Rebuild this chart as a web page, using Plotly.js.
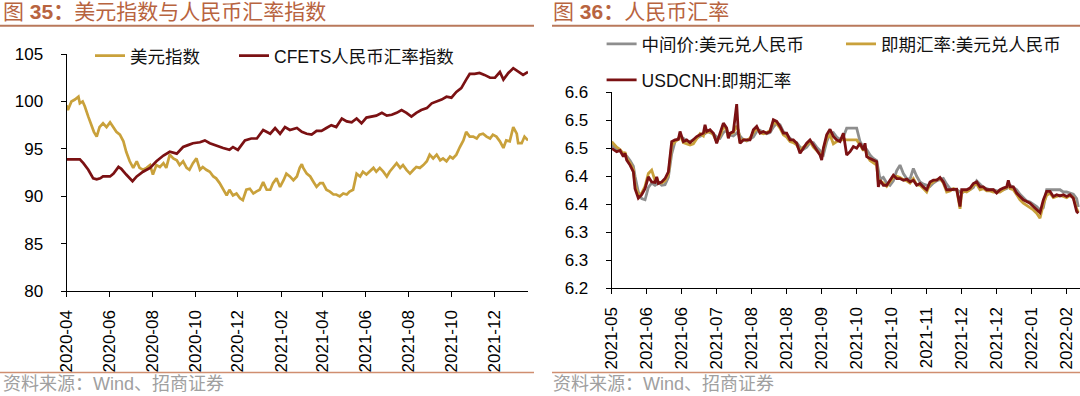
<!DOCTYPE html>
<html>
<head>
<meta charset="utf-8">
<script src="https://cdn.plot.ly/plotly-3.0.1.min.js"></script>
<style>
html,body{margin:0;padding:0;background:#fff;}
#chart{width:1080px;height:396px;}
</style>
</head>
<body>
<div id="chart"></div>
<script>
// ---------------- Left chart data (图35) ----------------
const dxyDates = ['2020-04-27','2020-04-29','2020-05-04','2020-05-09','2020-05-14','2020-05-16','2020-05-20','2020-05-23','2020-05-28',
'2020-06-02','2020-06-05','2020-06-09','2020-06-13','2020-06-18','2020-06-23','2020-06-28',
'2020-07-02','2020-07-07','2020-07-12','2020-07-17','2020-07-21','2020-07-26','2020-07-31',
'2020-08-05','2020-08-09','2020-08-14','2020-08-19','2020-08-24','2020-08-28',
'2020-09-02','2020-09-07','2020-09-12','2020-09-16','2020-09-21','2020-09-26',
'2020-10-01','2020-10-05','2020-10-10','2020-10-15','2020-10-19','2020-10-24','2020-10-29',
'2020-11-03','2020-11-07','2020-11-12','2020-11-17','2020-11-22','2020-11-26',
'2020-12-01','2020-12-06','2020-12-11','2020-12-15','2020-12-20','2020-12-25','2020-12-30',
'2021-01-03','2021-01-08','2021-01-13','2021-01-18','2021-01-22','2021-01-27',
'2021-02-01','2021-02-06','2021-02-11','2021-02-15','2021-02-20','2021-02-25',
'2021-03-02','2021-03-06','2021-03-11','2021-03-16','2021-03-21','2021-03-25','2021-03-28','2021-03-30',
'2021-04-04','2021-04-09','2021-04-13','2021-04-18','2021-04-23','2021-04-27',
'2021-05-02','2021-05-07','2021-05-12','2021-05-16','2021-05-21','2021-05-26','2021-05-31',
'2021-06-04','2021-06-09','2021-06-14','2021-06-19','2021-06-23','2021-06-28',
'2021-07-03','2021-07-08','2021-07-12','2021-07-17','2021-07-22','2021-07-27','2021-07-31',
'2021-08-05','2021-08-10','2021-08-15','2021-08-19','2021-08-24','2021-08-29',
'2021-09-03','2021-09-07','2021-09-12','2021-09-17','2021-09-22','2021-09-26',
'2021-10-01','2021-10-06','2021-10-11','2021-10-15','2021-10-20','2021-10-25','2021-10-29',
'2021-11-03','2021-11-08','2021-11-13','2021-11-17','2021-11-22','2021-11-27',
'2021-12-02','2021-12-06','2021-12-11','2021-12-16','2021-12-21','2021-12-25','2021-12-30',
'2022-01-04','2022-01-09','2022-01-13','2022-01-18','2022-01-23','2022-01-28','2022-01-30',
'2022-02-04','2022-02-08','2022-02-13'];
const dxyValues = [99.6,99.1,100.0,100.2,100.5,99.8,100.0,99.5,98.4,
97.3,96.8,96.3,97.3,97.7,97.3,97.8,
97.3,96.8,96.5,95.8,94.7,93.7,93.0,
93.7,93.0,92.8,93.0,93.3,92.3,
93.3,93.1,93.5,93.0,94.4,94.0,
93.8,93.3,93.7,93.0,92.8,93.5,94.0,
92.8,93.1,92.8,92.6,92.1,91.9,
91.4,90.8,90.1,90.7,90.1,90.3,89.8,
89.6,90.7,90.8,90.3,90.5,90.7,
91.5,90.7,90.7,91.4,91.9,91.0,
91.7,92.4,92.1,91.7,92.1,93.0,93.4,93.0,
92.4,92.1,91.6,91.0,91.4,91.4,
90.7,90.5,90.2,90.2,90.0,90.3,90.2,
90.5,90.7,92.4,92.1,92.6,92.3,
92.6,93.0,92.6,93.0,92.6,92.1,92.6,
93.1,93.5,93.0,93.3,92.8,92.4,
92.8,93.1,93.0,93.3,93.7,94.4,
94.0,94.4,93.8,94.0,93.7,94.2,94.0,
94.4,95.2,95.9,96.8,96.3,96.3,
96.1,96.5,96.6,96.3,96.1,96.5,96.3,
95.8,95.1,95.9,95.8,97.3,96.6,95.6,
95.6,96.3,95.9];

const cfetsDates = ['2020-04-27','2020-05-11','2020-05-16','2020-05-21','2020-05-28',
'2020-06-04','2020-06-09','2020-06-14','2020-06-18','2020-06-28',
'2020-07-03','2020-07-10','2020-07-14','2020-07-21','2020-07-30',
'2020-08-05','2020-08-14','2020-08-24','2020-09-02','2020-09-12','2020-09-21',
'2020-10-01','2020-10-10','2020-10-17','2020-10-24','2020-11-03','2020-11-10','2020-11-17','2020-11-27',
'2020-12-06','2020-12-15','2020-12-20','2020-12-27','2021-01-06','2021-01-15','2021-01-23',
'2021-02-01','2021-02-11','2021-02-18','2021-02-25','2021-03-04','2021-03-11','2021-03-21','2021-03-28',
'2021-04-04','2021-04-11','2021-04-18','2021-04-25','2021-05-02','2021-05-09','2021-05-16','2021-05-24','2021-05-31',
'2021-06-07','2021-06-14','2021-06-21','2021-06-28','2021-07-05','2021-07-12','2021-07-20','2021-07-27',
'2021-08-03','2021-08-10','2021-08-17','2021-08-24','2021-08-31','2021-09-07','2021-09-14','2021-09-22','2021-09-29',
'2021-10-06','2021-10-13','2021-10-20','2021-10-27','2021-11-03','2021-11-10','2021-11-17','2021-11-22','2021-11-29',
'2021-12-06','2021-12-13','2021-12-21','2021-12-28','2022-01-04','2022-01-09','2022-01-16','2022-01-23','2022-01-30',
'2022-02-06','2022-02-13'];
const cfetsValues = [93.9,93.9,93.9,93.5,92.8,
91.9,91.8,91.9,92.1,92.1,
92.4,93.1,92.9,92.3,91.6,
92.1,92.6,93.0,93.7,94.3,94.7,
94.5,95.2,95.4,95.6,95.7,95.9,95.6,95.3,
95.1,94.9,95.2,94.9,95.9,96.1,96.1,
97.0,96.6,97.2,96.6,97.3,97.0,97.2,96.8,
96.6,96.5,96.9,96.9,97.2,97.5,97.3,98.2,97.9,
97.8,98.2,97.7,98.3,98.4,98.5,98.8,98.5,
98.6,98.8,99.1,98.8,98.4,98.8,99.1,99.3,99.8,
100.0,100.2,100.5,100.4,101.0,101.4,102.3,102.9,102.9,
103.0,102.8,102.5,102.5,103.1,102.3,103.0,103.5,103.1,
102.8,103.1];

const leftTickVals = ['2020-04-27','2020-06-27','2020-08-27','2020-10-27','2020-12-27','2021-02-27','2021-04-27','2021-06-27','2021-08-27','2021-10-27','2021-12-27'];
const leftTickText = ['2020-04','2020-06','2020-08','2020-10','2020-12','2021-02','2021-04','2021-06','2021-08','2021-10','2021-12'];
const leftYTickVals = [80,85,90,95,100,105];
const leftYTickText = ['80','85','90','95','100','105'];

// ---------------- Right chart data (图36) ----------------
const fxDates = [
'2021-05-13','2021-05-16','2021-05-18','2021-05-20','2021-05-21','2021-05-22','2021-05-24','2021-05-26','2021-05-27','2021-05-29','2021-05-31',
'2021-06-02','2021-06-04','2021-06-06','2021-06-08','2021-06-09','2021-06-10','2021-06-12','2021-06-14','2021-06-16','2021-06-18','2021-06-20','2021-06-22','2021-06-23','2021-06-25','2021-06-27','2021-06-29',
'2021-07-01','2021-07-03','2021-07-05','2021-07-07','2021-07-08','2021-07-09','2021-07-11','2021-07-13','2021-07-15','2021-07-17','2021-07-19','2021-07-21','2021-07-22','2021-07-23','2021-07-25','2021-07-27','2021-07-28','2021-07-29','2021-07-31',
'2021-08-02','2021-08-04','2021-08-06','2021-08-08','2021-08-10','2021-08-12','2021-08-14','2021-08-16','2021-08-18','2021-08-20','2021-08-22','2021-08-24','2021-08-26','2021-08-28','2021-08-30',
'2021-09-01','2021-09-03','2021-09-05','2021-09-07','2021-09-09','2021-09-11','2021-09-13','2021-09-15','2021-09-16','2021-09-17','2021-09-19','2021-09-21','2021-09-23','2021-09-25','2021-09-27','2021-09-29',
'2021-10-01','2021-10-03','2021-10-05','2021-10-07','2021-10-09','2021-10-11','2021-10-12','2021-10-13','2021-10-15','2021-10-17','2021-10-19','2021-10-20','2021-10-21','2021-10-23','2021-10-25','2021-10-27','2021-10-29','2021-10-31',
'2021-11-02','2021-11-04','2021-11-06','2021-11-08','2021-11-10','2021-11-12','2021-11-14','2021-11-16','2021-11-18','2021-11-20','2021-11-22','2021-11-24','2021-11-26','2021-11-28','2021-11-30',
'2021-12-02','2021-12-04','2021-12-06','2021-12-08','2021-12-09','2021-12-10','2021-12-12','2021-12-14','2021-12-16','2021-12-18','2021-12-20','2021-12-22','2021-12-24','2021-12-26','2021-12-28','2021-12-30',
'2022-01-01','2022-01-03','2022-01-05','2022-01-06','2022-01-07','2022-01-09','2022-01-11','2022-01-13','2022-01-15','2022-01-17','2022-01-19','2022-01-21','2022-01-23','2022-01-25','2022-01-27','2022-01-29','2022-01-31',
'2022-02-02','2022-02-04','2022-02-06','2022-02-08','2022-02-10','2022-02-12','2022-02-14','2022-02-16','2022-02-17'];
const midRate = [
6.456,6.450,6.445,6.441,6.438,6.436,6.428,6.418,6.400,6.372,6.360,
6.358,6.380,6.388,6.384,6.386,6.390,6.384,6.385,6.398,6.440,6.462,6.468,6.470,6.468,6.463,6.462,
6.465,6.468,6.472,6.474,6.476,6.482,6.478,6.476,6.470,6.468,6.478,6.482,6.476,6.474,6.472,6.477,6.480,6.472,6.465,
6.463,6.466,6.470,6.480,6.482,6.478,6.476,6.478,6.488,6.495,6.492,6.480,6.474,6.468,6.462,
6.460,6.452,6.448,6.452,6.460,6.460,6.452,6.446,6.440,6.438,6.462,6.476,6.478,6.470,6.466,6.470,
6.486,6.486,6.486,6.486,6.462,6.452,6.450,6.448,6.438,6.432,6.428,6.412,6.395,6.398,6.388,6.384,6.392,6.410,
6.420,6.405,6.396,6.395,6.414,6.400,6.390,6.386,6.384,6.382,6.388,6.392,6.394,6.396,6.386,
6.378,6.376,6.376,6.372,6.370,6.372,6.375,6.376,6.380,6.392,6.386,6.380,6.378,6.376,6.376,6.374,
6.374,6.376,6.378,6.382,6.384,6.380,6.376,6.368,6.362,6.356,6.354,6.350,6.346,6.340,6.344,6.376,6.376,
6.376,6.376,6.376,6.372,6.372,6.370,6.368,6.360,6.345];
const spotRate = [
6.462,6.452,6.448,6.440,6.443,6.432,6.424,6.412,6.385,6.366,6.370,
6.382,6.405,6.411,6.392,6.397,6.389,6.388,6.392,6.403,6.455,6.462,6.466,6.474,6.460,6.458,6.456,
6.458,6.466,6.476,6.472,6.484,6.478,6.480,6.474,6.462,6.472,6.488,6.484,6.470,6.476,6.478,6.490,6.482,6.462,6.466,
6.464,6.468,6.478,6.486,6.478,6.476,6.478,6.482,6.496,6.494,6.486,6.474,6.470,6.462,6.460,
6.456,6.446,6.452,6.456,6.462,6.452,6.446,6.440,6.434,6.448,6.468,6.474,6.458,6.462,6.464,6.466,
6.465,6.465,6.465,6.465,6.456,6.446,6.452,6.438,6.428,6.424,6.420,6.390,6.392,6.388,6.382,6.390,6.398,6.400,
6.398,6.394,6.392,6.388,6.396,6.385,6.384,6.378,6.372,6.386,6.390,6.394,6.396,6.388,6.372,
6.374,6.378,6.376,6.342,6.370,6.374,6.372,6.376,6.384,6.386,6.376,6.378,6.374,6.374,6.372,6.372,
6.372,6.376,6.380,6.386,6.378,6.376,6.366,6.358,6.352,6.348,6.344,6.340,6.334,6.325,6.350,6.366,6.370,
6.362,6.364,6.366,6.364,6.362,6.366,6.362,6.342,6.336];
const cnhRate = [
6.450,6.444,6.446,6.435,6.441,6.429,6.420,6.408,6.378,6.361,6.367,
6.378,6.399,6.390,6.389,6.399,6.387,6.390,6.396,6.408,6.462,6.465,6.466,6.480,6.462,6.465,6.460,
6.465,6.471,6.474,6.477,6.492,6.480,6.483,6.477,6.459,6.477,6.495,6.486,6.468,6.477,6.480,6.529,6.477,6.459,6.465,
6.465,6.465,6.483,6.489,6.477,6.480,6.477,6.480,6.501,6.498,6.489,6.477,6.477,6.465,6.465,
6.459,6.441,6.450,6.459,6.465,6.456,6.447,6.438,6.429,6.450,6.474,6.484,6.471,6.465,6.462,6.477,
6.438,6.444,6.453,6.450,6.459,6.447,6.459,6.435,6.432,6.429,6.426,6.381,6.393,6.384,6.384,6.393,6.402,6.396,
6.396,6.393,6.395,6.390,6.393,6.384,6.387,6.381,6.376,6.390,6.393,6.393,6.398,6.390,6.376,
6.376,6.376,6.377,6.346,6.376,6.376,6.376,6.379,6.387,6.390,6.381,6.381,6.376,6.376,6.376,6.370,
6.376,6.379,6.381,6.393,6.381,6.381,6.370,6.364,6.358,6.355,6.352,6.346,6.340,6.335,6.358,6.373,6.373,
6.364,6.367,6.365,6.367,6.364,6.367,6.361,6.337,6.334];

const rightTickVals = ['2021-05-13','2021-06-03','2021-06-24','2021-07-15','2021-08-05','2021-08-26','2021-09-16','2021-10-07','2021-10-28','2021-11-18','2021-12-09','2021-12-30','2022-01-20','2022-02-10'];
const rightTickText = ['2021-05','2021-06','2021-06','2021-07','2021-08','2021-08','2021-09','2021-10','2021-10','2021-11','2021-12','2021-12','2022-01','2022-02'];
const rightYTickVals = [6.2,6.25,6.3,6.35,6.4,6.45,6.5,6.55];
const rightYTickText = ['6.2','6.3','6.3','6.4','6.4','6.5','6.5','6.6'];

const names = {
  dxy: '美元指数', cfets: 'CFETS人民币汇率指数',
  mid: '中间价:美元兑人民币', spot: '即期汇率:美元兑人民币', cnh: 'USDCNH:即期汇率'
};
const titles = {
  left: '图 <b>35：</b>美元指数与人民币汇率指数',
  right: '图 <b>36：</b>人民币汇率',
  source: '资料来源：Wind、招商证券'
};

// ---------------- Styling / layout ----------------
const W = 1080, H = 396;
const px = x => x / W;
const py = y => 1 - y / H;
const FONT = 'Liberation Sans, Arial, Noto Sans CJK SC, sans-serif';
const GOLD = '#C9A13B', DARKRED = '#7B1113', GRAY = '#8E8E8E';
const TITLE_COLOR = '#B8643F';

const traces = [
  {x: dxyDates, y: dxyValues, name: names.dxy, type: 'scatter', mode: 'lines',
   line: {color: GOLD, width: 2.7}, xaxis: 'x', yaxis: 'y', legend: 'legend'},
  {x: cfetsDates, y: cfetsValues, name: names.cfets, type: 'scatter', mode: 'lines',
   line: {color: DARKRED, width: 2.7}, xaxis: 'x', yaxis: 'y', legend: 'legend2'},
  {x: fxDates, y: midRate, name: names.mid, type: 'scatter', mode: 'lines',
   line: {color: GRAY, width: 2.8}, xaxis: 'x2', yaxis: 'y2', legend: 'legend3'},
  {x: fxDates, y: spotRate, name: names.spot, type: 'scatter', mode: 'lines',
   line: {color: GOLD, width: 2.8}, xaxis: 'x2', yaxis: 'y2', legend: 'legend4'},
  {x: fxDates, y: cnhRate, name: names.cnh, type: 'scatter', mode: 'lines',
   line: {color: DARKRED, width: 2.8}, xaxis: 'x2', yaxis: 'y2', legend: 'legend5'}
];

const tickFont = {family: FONT, size: 17, color: '#000'};
const baseX = {
  type: 'date', tickangle: -90, ticks: 'outside', ticklen: 5, tickwidth: 1, tickcolor: '#000',
  showline: true, linecolor: '#000', linewidth: 1, showgrid: false, zeroline: false,
  tickfont: tickFont, ticklabelstandoff: 6, fixedrange: true
};
const baseY = {
  ticks: 'outside', ticklen: 5, tickwidth: 1, tickcolor: '#000',
  showline: true, linecolor: '#000', linewidth: 1, showgrid: false, zeroline: false,
  tickfont: tickFont, ticklabelstandoff: 14, fixedrange: true
};
const legendBase = {
  orientation: 'h', xanchor: 'left', yanchor: 'middle', bgcolor: 'rgba(0,0,0,0)',
  borderwidth: 0, font: {family: FONT, size: 17.5, color: '#111'}
};

const layout = {
  width: W, height: H,
  margin: {l: 0, r: 0, t: 0, b: 0, pad: 0},
  paper_bgcolor: '#fff', plot_bgcolor: '#fff',
  font: {family: FONT},
  showlegend: true,
  xaxis: Object.assign({}, baseX, {domain: [px(66.5), px(528)], range: ['2020-04-27', '2022-02-13'],
    tickvals: leftTickVals, ticktext: leftTickText, anchor: 'y'}),
  yaxis: Object.assign({}, baseY, {domain: [py(291.3), py(54)], range: [80, 105],
    tickvals: leftYTickVals, ticktext: leftYTickText, anchor: 'x'}),
  xaxis2: Object.assign({}, baseX, {domain: [px(611.7), 1], range: ['2021-05-13', '2022-02-18'],
    tickvals: rightTickVals, ticktext: rightTickText, anchor: 'y2'}),
  yaxis2: Object.assign({}, baseY, {domain: [py(288.3), py(92.3)], range: [6.2, 6.55],
    tickvals: rightYTickVals, ticktext: rightYTickText, anchor: 'x2'}),
  legend: Object.assign({}, legendBase, {x: px(90), y: py(55.8)}),
  legend2: Object.assign({}, legendBase, {x: px(234), y: py(55.8)}),
  legend3: Object.assign({}, legendBase, {x: px(601.6), y: py(44)}),
  legend4: Object.assign({}, legendBase, {x: px(841), y: py(44)}),
  legend5: Object.assign({}, legendBase, {x: px(601.6), y: py(80)}),
  annotations: [
    {text: titles.left, x: px(1), y: py(12), xref: 'paper', yref: 'paper', xanchor: 'left', yanchor: 'middle',
     showarrow: false, font: {family: FONT, size: 21, color: TITLE_COLOR}},
    {text: titles.right, x: px(551), y: py(12), xref: 'paper', yref: 'paper', xanchor: 'left', yanchor: 'middle',
     showarrow: false, font: {family: FONT, size: 21, color: TITLE_COLOR}},
    {text: titles.source, x: px(1), y: py(384), xref: 'paper', yref: 'paper', xanchor: 'left', yanchor: 'middle',
     showarrow: false, font: {family: FONT, size: 18, color: '#A0A0A0'}},
    {text: titles.source, x: px(551), y: py(384), xref: 'paper', yref: 'paper', xanchor: 'left', yanchor: 'middle',
     showarrow: false, font: {family: FONT, size: 18, color: '#A0A0A0'}}
  ],
  shapes: [
    {type: 'line', xref: 'paper', yref: 'paper', x0: 0, x1: px(534), y0: py(25.7), y1: py(25.7),
     line: {color: '#B9795B', width: 2}},
    {type: 'line', xref: 'paper', yref: 'paper', x0: px(552), x1: 1, y0: py(25.7), y1: py(25.7),
     line: {color: '#B9795B', width: 2}},
    {type: 'line', xref: 'paper', yref: 'paper', x0: 0, x1: px(534), y0: py(372.5), y1: py(372.5),
     line: {color: '#D08E70', width: 1.5}},
    {type: 'line', xref: 'paper', yref: 'paper', x0: px(552), x1: 1, y0: py(372.5), y1: py(372.5),
     line: {color: '#D08E70', width: 1.5}}
  ]
};

Plotly.newPlot('chart', traces, layout, {staticPlot: true, displayModeBar: false, responsive: false});
</script>
</body>
</html>
